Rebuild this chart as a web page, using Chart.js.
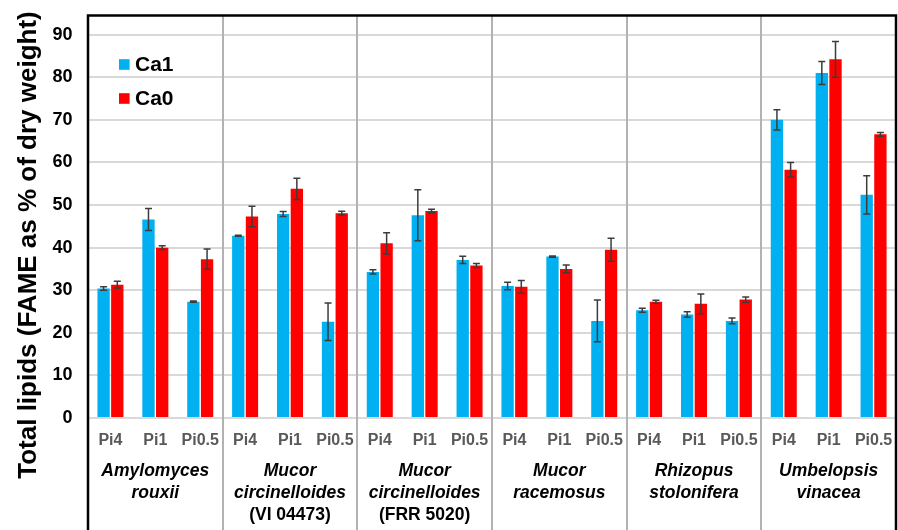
<!DOCTYPE html>
<html>
<head>
<meta charset="utf-8">
<script src="https://cdn.jsdelivr.net/npm/chart.js@4.4.1/dist/chart.umd.min.js"></script>
<style>
  html, body { margin: 0; padding: 0; background: #ffffff; }
  #wrap { width: 898px; height: 530px; position: relative; }
</style>
</head>
<body>
<div id="wrap"><canvas id="c"></canvas></div>
<script>
// Phosphate levels tested for every strain
const categories = ['Pi4', 'Pi1', 'Pi0.5', 'Pi4', 'Pi1', 'Pi0.5', 'Pi4', 'Pi1', 'Pi0.5',
                    'Pi4', 'Pi1', 'Pi0.5', 'Pi4', 'Pi1', 'Pi0.5', 'Pi4', 'Pi1', 'Pi0.5'];

// Strain names, one entry per group of three bars (lines of the label)
const strains = [
  ['Amylomyces', 'rouxii'],
  ['Mucor', 'circinelloides', '(VI 04473)'],
  ['Mucor', 'circinelloides', '(FRR 5020)'],
  ['Mucor', 'racemosus'],
  ['Rhizopus', 'stolonifera'],
  ['Umbelopsis', 'vinacea']
];

// Total lipids, FAME as % of dry weight
const ca1 = [30.4, 46.6, 27.3, 42.8, 47.9, 22.6, 34.3, 47.6, 37.1,
             31.0, 37.9, 22.8, 25.3, 24.3, 22.8, 70.0, 81.0, 52.4];
const ca1Err = [0.4, 2.6, 0.15, 0.1, 0.6, 4.4, 0.5, 6.0, 0.85,
                0.9, 0.15, 4.9, 0.45, 0.65, 0.65, 2.4, 2.7, 4.5];
const ca0 = [31.3, 40.0, 37.3, 47.3, 53.8, 48.1, 41.0, 48.6, 35.8,
             30.8, 35.0, 39.5, 27.3, 26.8, 27.8, 58.3, 84.2, 66.6];
const ca0Err = [0.8, 0.45, 2.4, 2.4, 2.5, 0.45, 2.5, 0.4, 0.45,
                1.5, 0.9, 2.7, 0.35, 2.3, 0.6, 1.7, 4.2, 0.45];

const yTicks = [0, 10, 20, 30, 40, 50, 60, 70, 80, 90];
const seriesNames = ['Ca1', 'Ca0'];
const yTitle = 'Total lipids (FAME as % of dry weight)';

const errorSets = [ca1Err, ca0Err];
const colors = ['#00b0f0', '#ff0000'];
const FONT = '"Liberation Sans", Arial, Helvetica, sans-serif';

const decor = {
  id: 'decor',
  beforeDatasetsDraw(chart) {
    // strain separators, running from the plot top through the label band
    const { ctx, chartArea: a, scales: { x } } = chart;
    ctx.save();
    ctx.strokeStyle = '#b2b2b2';
    ctx.lineWidth = 2;
    for (let i = 3; i < categories.length; i += 3) {
      const px = Math.round((x.getPixelForValue(i - 1) + x.getPixelForValue(i)) / 2);
      ctx.beginPath();
      ctx.moveTo(px, a.top);
      ctx.lineTo(px, chart.height);
      ctx.stroke();
    }
    ctx.restore();
  },
  afterDatasetsDraw(chart) {
    // standard deviation whiskers
    const { ctx, scales: { y } } = chart;
    ctx.save();
    ctx.strokeStyle = '#3c3c3c';
    ctx.lineWidth = 1.5;
    chart.data.datasets.forEach((ds, di) => {
      const meta = chart.getDatasetMeta(di);
      meta.data.forEach((bar, i) => {
        const v = ds.data[i], e = errorSets[di][i];
        const yt = y.getPixelForValue(v + e);
        const yb = y.getPixelForValue(v - e);
        const cx = bar.x, cap = 3.5;
        ctx.beginPath();
        ctx.moveTo(cx, yt); ctx.lineTo(cx, yb);
        ctx.moveTo(cx - cap, yt); ctx.lineTo(cx + cap, yt);
        ctx.moveTo(cx - cap, yb); ctx.lineTo(cx + cap, yb);
        ctx.stroke();
      });
    });
    ctx.restore();
  },
  afterDraw(chart) {
    const { ctx, chartArea: a, scales: { x } } = chart;
    ctx.save();

    // frame
    ctx.strokeStyle = '#000000';
    ctx.lineWidth = 2.5;
    ctx.beginPath();
    ctx.moveTo(a.left, chart.height + 2);
    ctx.lineTo(a.left, a.top);
    ctx.lineTo(a.right, a.top);
    ctx.lineTo(a.right, chart.height + 2);
    ctx.stroke();

    // legend
    ctx.textBaseline = 'middle';
    ctx.textAlign = 'left';
    ctx.font = 'bold 21px ' + FONT;
    seriesNames.forEach((name, i) => {
      const cy = a.top + 49 + i * 34;
      ctx.fillStyle = colors[i];
      ctx.fillRect(a.left + 31, cy - 5.3, 10.6, 10.6);
      ctx.fillStyle = '#000000';
      ctx.fillText(name, a.left + 47, cy + 1);
    });

    // strain names under each group
    ctx.textAlign = 'center';
    ctx.textBaseline = 'alphabetic';
    strains.forEach((lines, g) => {
      const cx = x.getPixelForValue(g * 3 + 1);
      lines.forEach((line, k) => {
        ctx.font = (line.startsWith('(') ? 'bold ' : 'italic bold ') + '17.5px ' + FONT;
        ctx.fillStyle = '#000000';
        ctx.fillText(line, cx, a.bottom + 58 + k * 22);
      });
    });

    // y axis title
    ctx.translate(29, 245);
    ctx.rotate(-Math.PI / 2);
    ctx.font = 'bold 26px ' + FONT;
    ctx.textAlign = 'center';
    ctx.textBaseline = 'middle';
    ctx.fillStyle = '#000000';
    ctx.fillText(yTitle, 0, 0);
    ctx.restore();
  }
};

new Chart(document.getElementById('c'), {
  type: 'bar',
  data: {
    labels: categories,
    datasets: [
      { label: seriesNames[0], data: ca1, backgroundColor: colors[0] },
      { label: seriesNames[1], data: ca0, backgroundColor: colors[1] }
    ]
  },
  options: {
    responsive: true,
    maintainAspectRatio: false,
    animation: false,
    events: [],
    datasets: { bar: { categoryPercentage: 0.61, barPercentage: 0.9 } },
    layout: { padding: { top: 15.5, right: 2, bottom: 0, left: 0 } },
    plugins: { legend: { display: false }, tooltip: { enabled: false } },
    scales: {
      x: {
        grid: { display: false },
        border: { display: false },
        ticks: {
          padding: 5,
          color: '#595959',
          font: { family: FONT, size: 16, weight: 'bold' },
          maxRotation: 0,
          autoSkip: false
        },
        afterFit(scale) {
          scale.height = 112;
          scale.paddingLeft = 0;
          scale.paddingRight = 0;
        }
      },
      y: {
        min: 0,
        max: 94.5,
        grid: { color: '#d9d9d9', lineWidth: 2, drawTicks: false },
        border: { display: false },
        ticks: {
          padding: 15.5,
          color: '#000000',
          font: { family: FONT, size: 18, weight: 'bold' }
        },
        afterBuildTicks(scale) {
          scale.ticks = yTicks.map(v => ({ value: v }));
        },
        afterFit(scale) {
          scale.width = 88;
          scale.paddingTop = 0;
          scale.paddingBottom = 0;
        }
      }
    }
  },
  plugins: [decor]
});
</script>
</body>
</html>
